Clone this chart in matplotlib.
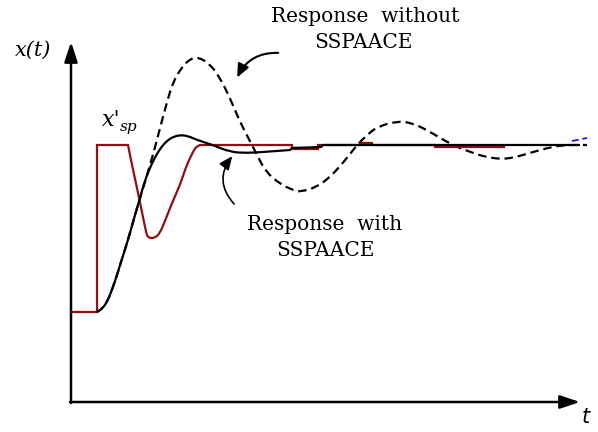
import matplotlib
matplotlib.use("Agg")
import matplotlib.pyplot as plt
from matplotlib.patches import FancyArrowPatch, PathPatch
from matplotlib.path import Path

# Time axis runs 0..510, response axis 0..360 (initial level 90, setpoint 257)

# Modified setpoint x'_sp (with SSPAACE)
sp_t = [0, 26, 26, 57, 61, 66, 71, 75, 77, 84, 89, 94, 101, 109, 115, 119,
        124, 127, 129, 221, 221, 247, 247, 289, 289, 301, 301, 364, 364, 434]
sp_v = [90, 90, 257, 257, 237, 214, 190, 170, 164, 164, 169, 181, 199, 217,
        235, 244, 254, 256, 257, 257, 253, 253, 257, 257, 259, 259, 257, 257,
        255, 255]

# Response with SSPAACE
with_t = [26, 32, 37, 42, 46, 50, 57, 64, 69, 74, 81, 87, 92, 97, 102, 109,
          117, 126, 142, 159, 176, 192, 219, 221, 250, 252, 509]
with_v = [90, 94, 102, 115, 127, 140, 162, 187, 204, 222, 239, 250, 257, 262,
          265, 267, 266, 262, 257, 250, 249, 250, 252, 254, 255, 257, 257]

# Response without SSPAACE
wo_t = [26, 32, 37, 42, 46, 50, 57, 64, 69, 74, 82, 89, 96, 102, 111, 119,
        127, 139, 149, 159, 169, 181, 187, 195, 209, 222, 229, 246, 259, 272,
        286, 296, 306, 326, 341, 356, 381, 402, 415, 429, 441, 452, 476, 492,
        516]
wo_v = [90, 94, 102, 115, 127, 140, 162, 187, 204, 220, 247, 274, 300, 320,
        335, 343, 345, 338, 324, 304, 280, 257, 245, 230, 218, 212, 210, 215,
        225, 239, 257, 267, 275, 281, 279, 272, 257, 249, 245, 243, 244, 247,
        254, 257, 257]

# Short blue tail at the far right
tail_t = [501, 516]
tail_v = [261, 264]

RED = "#8f1010"


def smooth_path(xs, ys, sharp=()):
    """Polyline rounded with quadratic Bezier segments at non-sharp vertices."""
    verts = [(xs[0], ys[0])]
    codes = [Path.MOVETO]
    n = len(xs)
    for i in range(1, n - 1):
        if i in sharp:
            verts.append((xs[i], ys[i]))
            codes.append(Path.LINETO)
            continue
        m0 = ((xs[i - 1] + xs[i]) / 2, (ys[i - 1] + ys[i]) / 2)
        m1 = ((xs[i] + xs[i + 1]) / 2, (ys[i] + ys[i + 1]) / 2)
        verts += [m0, (xs[i], ys[i]), m1]
        codes += [Path.LINETO, Path.CURVE3, Path.CURVE3]
    verts.append((xs[-1], ys[-1]))
    codes.append(Path.LINETO)
    return Path(verts, codes)


fig = plt.figure(figsize=(5.98, 4.32), dpi=100)
ax = fig.add_axes([0, 0, 1, 1])
ax.set_xlim(-71, 527)
ax.set_ylim(-30, 402)
ax.axis("off")

# Axes drawn as arrows
arrow_kw = dict(arrowstyle="-|>,head_length=1.2,head_width=0.4", lw=1.8,
                color="black", shrinkA=0, shrinkB=0)
ax.annotate("", xy=(509, 0), xytext=(-1, 0), arrowprops=arrow_kw)
ax.annotate("", xy=(0, 360), xytext=(0, -1), arrowprops=arrow_kw)

ax.add_patch(PathPatch(smooth_path(wo_t, wo_v), fill=False, edgecolor="black",
                       lw=1.6, linestyle=(0, (3.8, 2.2)), zorder=3))
ax.plot(tail_t, tail_v, color="blue", lw=1.2, dashes=(4.0, 2.4), zorder=3)
sp_sharp = set(range(0, 4)) | set(range(18, len(sp_t)))
ax.add_patch(PathPatch(smooth_path(sp_t, sp_v, sp_sharp), fill=False,
                       edgecolor=RED, lw=1.6, joinstyle="miter", zorder=4))
with_sharp = {22, 23, 24, 25}
ax.add_patch(PathPatch(smooth_path(with_t, with_v, with_sharp), fill=False,
                       edgecolor="black", lw=1.6, zorder=5))

# Labels
ax.text(-56, 352, "x(t)", fontsize=15, family="DejaVu Serif", style="italic",
        ha="left", va="center")
ax.text(515, -15, "t", fontsize=15, family="DejaVu Sans", style="italic",
        ha="center", va="center")
ax.text(31, 282, "x'", fontsize=16, family="DejaVu Serif",
        style="italic", ha="left", va="center")
ax.text(49, 275, "sp", fontsize=11, family="DejaVu Serif", style="italic",
        ha="left", va="center")

ax.text(294, 386, "Response  without", fontsize=14.5, family="DejaVu Serif",
        ha="center", va="center")
ax.text(292, 359, "SSPAACE", fontsize=14.5, family="DejaVu Serif",
        ha="center", va="center")
ax.text(254, 177, "Response  with", fontsize=14.5, family="DejaVu Serif",
        ha="center", va="center")
ax.text(255, 151, "SSPAACE", fontsize=14.5, family="DejaVu Serif",
        ha="center", va="center")

# Curved pointers to the curves
ax.add_patch(FancyArrowPatch((210, 349), (165, 322),
                             connectionstyle="arc3,rad=0.35",
                             arrowstyle="-|>,head_length=8,head_width=3.5",
                             lw=1.5, color="black", zorder=6))
ax.add_patch(FancyArrowPatch((165, 196), (163, 248),
                             connectionstyle="arc3,rad=-0.45",
                             arrowstyle="-|>,head_length=8,head_width=3.5",
                             lw=1.2, color="black", zorder=6))

fig.savefig("out.png", dpi=100)
